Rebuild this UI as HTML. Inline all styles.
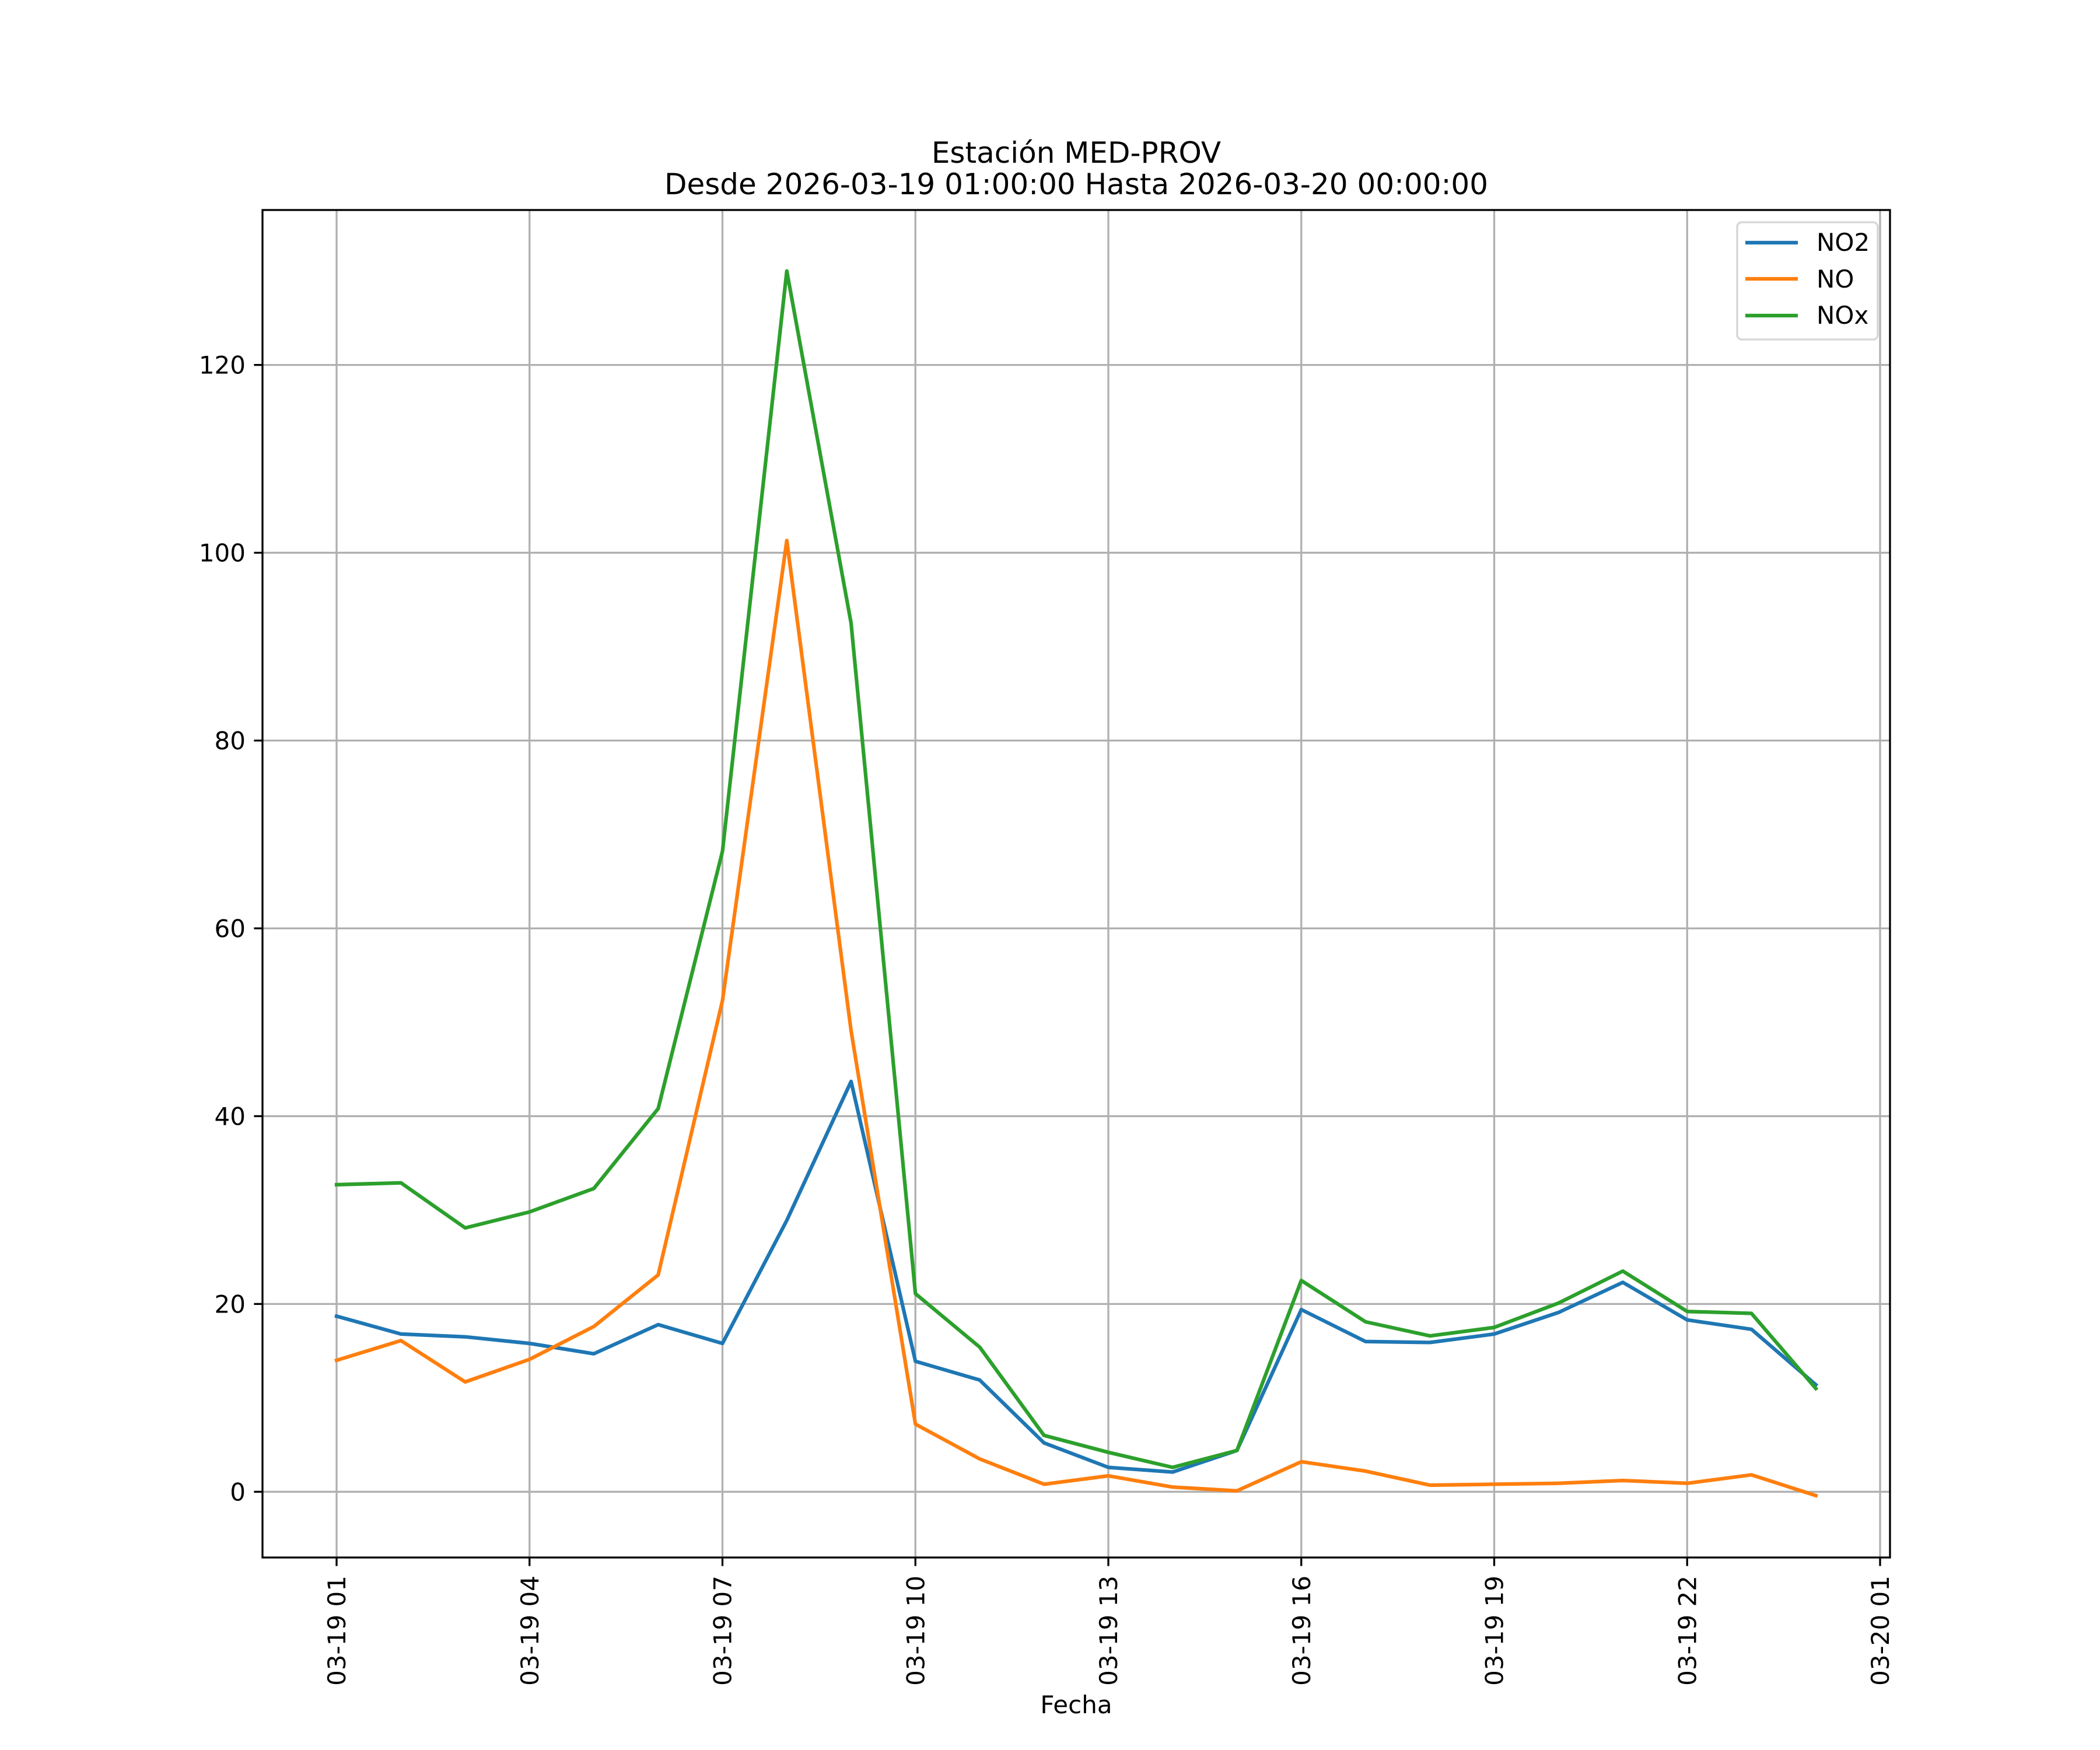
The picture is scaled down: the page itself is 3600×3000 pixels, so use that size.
<!DOCTYPE html>
<html><head><meta charset="utf-8"><style>
html,body{margin:0;padding:0;background:#fff;}
svg{display:block;font-family:"DejaVu Sans","Liberation Sans",sans-serif;}
</style></head><body>
<svg id="chart" width="3600" height="3000" viewBox="0 0 3600 3000" xmlns="http://www.w3.org/2000/svg">
<rect x="0" y="0" width="3600" height="3000" fill="#fff"/>
<text x="1845" y="279" text-anchor="middle" font-size="50">Estación MED-PROV</text>
<text x="1845" y="333" text-anchor="middle" font-size="50">Desde 2026-03-19 01:00:00 Hasta 2026-03-20 00:00:00</text>
<g id="grid"></g>
<g id="series"></g>
<rect x="450" y="360" width="2790" height="2310" fill="none" stroke="#000" stroke-width="3.3"/>
<g id="ticks"></g>
<text x="1845" y="2937" text-anchor="middle" font-size="42">Fecha</text>
<g>
<rect x="2978" y="381" width="241" height="201" rx="8" fill="#fff" fill-opacity="0.8" stroke="#d6d6d6" stroke-width="3.3"/>
<g><line x1="2992" y1="416" x2="3082" y2="416" stroke="#1f77b4" stroke-width="6.25"/><text x="3114" y="430" font-size="42">NO2</text></g>
<g><line x1="2992" y1="478" x2="3082" y2="478" stroke="#ff7f0e" stroke-width="6.25"/><text x="3114" y="493" font-size="42">NO</text></g>
<g><line x1="2992" y1="541" x2="3082" y2="541" stroke="#2ca02c" stroke-width="6.25"/><text x="3114" y="555" font-size="42">NOx</text></g>
</g>
</svg>
<script>
const hours = [1,2,3,4,5,6,7,8,9,10,11,12,13,14,15,16,17,18,19,20,21,22,23,24];
const no2 = [18.7,16.8,16.5,15.8,14.7,17.8,15.8,28.9,43.7,13.9,11.9,5.2,2.6,2.1,4.4,19.4,16.0,15.9,16.8,19.1,22.3,18.3,17.3,11.4];
const no = [14.0,16.1,11.7,14.1,17.6,23.1,52.3,101.3,49.1,7.2,3.5,0.8,1.7,0.5,0.1,3.2,2.2,0.7,0.8,0.9,1.2,0.9,1.8,-0.4];
const nox = [32.7,32.9,28.1,29.8,32.3,40.8,68.2,130.0,92.5,21.1,15.4,6.0,4.2,2.6,4.4,22.5,18.1,16.6,17.5,20.1,23.5,19.2,19.0,11.0];
const yTicks = [0,20,40,60,80,100,120];
const xTickHours = [1,4,7,10,13,16,19,22,25];
const xTickLabels = ["03-19 01","03-19 04","03-19 07","03-19 10","03-19 13","03-19 16","03-19 19","03-19 22","03-20 01"];

const NS = "http://www.w3.org/2000/svg";
const L=450,R=3240,T=360,B=2670;
const xMin=-0.15, xMax=25.15, yMin=-7.0, yMax=136.5;
function xs(h){return 577 + (h-1)*110.25;}
function ys(v){return B - (v-yMin)/(yMax-yMin)*(B-T);}
function mk(tag,attrs,parent){const e=document.createElementNS(NS,tag);for(const k in attrs)e.setAttribute(k,attrs[k]);parent.appendChild(e);return e;}
const grid=document.getElementById('grid'), ticks=document.getElementById('ticks'), series=document.getElementById('series');
yTicks.forEach(v=>{
  const y=ys(v);
  const g=mk('line',{x1:L,x2:R,y1:y,y2:y,stroke:'#b0b0b0','stroke-width':3.3},grid);
  
  
  const t=mk('line',{x1:L-14.6,x2:L,y1:y,y2:y,stroke:'#000','stroke-width':3.3},ticks);
  
  
  const tx=mk('text',{x:L-29,y:y+15,'text-anchor':'end','font-size':42},ticks);
  tx.textContent=String(v);
  
  
});
xTickHours.forEach((h,i)=>{
  const x=xs(h);
  const g=mk('line',{x1:x,x2:x,y1:T,y2:B,stroke:'#b0b0b0','stroke-width':3.3},grid);
  
  
  const t=mk('line',{x1:x,x2:x,y1:B,y2:B+14.6,stroke:'#000','stroke-width':3.3},ticks);
  
  
  const tx=mk('text',{x:0,y:0,'text-anchor':'end','font-size':42,transform:`translate(${x+15},${B+31}) rotate(-90)`},ticks);
  tx.textContent=xTickLabels[i];
  
  
});
[[no2,'#1f77b4','no2-line'],[no,'#ff7f0e','no-line'],[nox,'#2ca02c','nox-line']].forEach(([arr,c,n])=>{
  const pts=arr.map((v,i)=>xs(hours[i]).toFixed(1)+','+ys(v).toFixed(1)).join(' ');
  const p=mk('polyline',{points:pts,fill:'none',stroke:c,'stroke-width':6.25,'stroke-linejoin':'round','stroke-linecap':'square'},series);
  
  
});
</script>
</body></html>
